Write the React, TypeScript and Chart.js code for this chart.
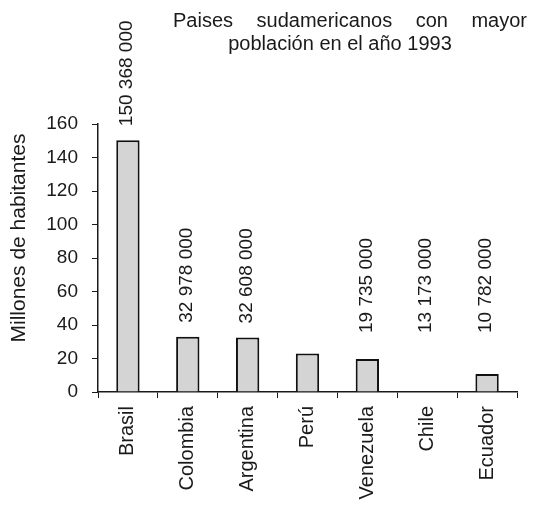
import { useEffect, useRef } from 'react';
import { Chart, registerables } from 'chart.js';

Chart.register(...registerables);

// Población 1993 (habitantes)
const paises = ['Brasil', 'Colombia', 'Argentina', 'Perú', 'Venezuela', 'Chile', 'Ecuador'];
const poblacion = [150368000, 32978000, 32608000, 23000000, 19735000, 13173000, 10782000];
// Qué países llevan cifra escrita y cuáles tienen barra dibujada
const conEtiqueta = [true, true, true, false, true, true, true];
const conBarra = [true, true, true, true, true, false, true];

const ejeMin = 0;
const ejeMax = 160;
const ejePaso = 20;

const tituloLineas = ['Paises sudamericanos con mayor', 'población en el año 1993'];
const tituloEje = 'Millones de habitantes';

const FUENTE = '"Liberation Sans", Arial, sans-serif';
const TINTA = '#1a1a1a';

const millones = poblacion.map((v, i) => (conBarra[i] ? v / 1e6 : null));

function conEspacios(v: number): string {
  return String(v).replace(/\B(?=(\d{3})+(?!\d))/g, ' ');
}

const textosPlugin = {
  id: 'textosPoblacion',
  afterDraw(chart: any) {
    const ctx: CanvasRenderingContext2D = chart.ctx;
    const area = chart.chartArea;
    const yScale = chart.scales.y;
    const meta = chart.getDatasetMeta(0);

    ctx.save();
    ctx.fillStyle = TINTA;

    // Título: primera línea justificada, segunda centrada
    ctx.font = `20px ${FUENTE}`;
    ctx.textBaseline = 'alphabetic';
    ctx.textAlign = 'left';
    const izq = 173;
    const der = chart.width - 6;
    const palabras = tituloLineas[0].split(' ');
    const anchos = palabras.map((p) => ctx.measureText(p).width);
    const total = anchos.reduce((a, b) => a + b, 0);
    const hueco = (der - izq - total) / (palabras.length - 1);
    let x = izq;
    palabras.forEach((p, i) => {
      ctx.fillText(p, x, 27);
      x += anchos[i] + hueco;
    });
    ctx.textAlign = 'center';
    ctx.fillText(tituloLineas[1], 340, 50);

    // Título del eje vertical
    ctx.save();
    ctx.font = `21px ${FUENTE}`;
    ctx.translate(19, 238);
    ctx.rotate(-Math.PI / 2);
    ctx.textAlign = 'center';
    ctx.textBaseline = 'middle';
    ctx.fillText(tituloEje, 0, 0);
    ctx.restore();

    // Cifras sobre las barras, en vertical
    ctx.font = `19px ${FUENTE}`;
    const limite = area.bottom - 59;
    meta.data.forEach((bar: any, i: number) => {
      if (!conEtiqueta[i]) return;
      const tope = yScale.getPixelForValue(poblacion[i] / 1e6);
      const base = Math.min(tope - 14, limite);
      ctx.save();
      ctx.translate(bar.x - 1, base);
      ctx.rotate(-Math.PI / 2);
      ctx.textAlign = 'left';
      ctx.textBaseline = 'middle';
      ctx.fillText(conEspacios(poblacion[i]), 0, 0);
      ctx.restore();
    });

    ctx.restore();
  },
};

export default function App() {
  const ref = useRef<HTMLCanvasElement>(null);

  useEffect(() => {
    if (!ref.current) return;
    const chart = new Chart(ref.current, {
      type: 'bar',
      data: {
        labels: paises,
        datasets: [
          {
            data: millones,
            backgroundColor: '#d4d4d4',
            borderColor: '#111111',
            borderWidth: 2,
            barPercentage: 0.39,
            categoryPercentage: 1,
          },
        ],
      },
      options: {
        responsive: false,
        animation: false,
        devicePixelRatio: 1,
        layout: { padding: { top: 124, right: 16, left: 0, bottom: 0 } },
        plugins: {
          legend: { display: false },
          tooltip: { enabled: false },
          title: { display: false },
        },
        scales: {
          x: {
            grid: {
              display: true,
              offset: true,
              drawOnChartArea: false,
              drawTicks: true,
              tickLength: 6,
              color: TINTA,
              lineWidth: 1,
            },
            border: { display: true, color: TINTA, width: 1.5 },
            ticks: {
              color: TINTA,
              font: { family: FUENTE, size: 20 },
              maxRotation: 90,
              minRotation: 90,
              autoSkip: false,
              padding: 8,
            },
            afterFit: (s: any) => {
              s.height = 115;
            },
          },
          y: {
            min: ejeMin,
            max: ejeMax,
            grid: {
              display: true,
              drawOnChartArea: false,
              drawTicks: true,
              tickLength: 6,
              color: TINTA,
              lineWidth: 1,
            },
            border: { display: true, color: TINTA, width: 1.5 },
            ticks: {
              stepSize: ejePaso,
              color: TINTA,
              font: { family: FUENTE, size: 19 },
              padding: 14,
            },
            afterFit: (s: any) => {
              s.width = 98;
            },
          },
        },
      },
      plugins: [textosPlugin],
    });
    return () => chart.destroy();
  }, []);

  return (
    <div style={{ position: 'fixed', left: 0, top: 0, width: 533, height: 507, background: '#ffffff' }}>
      <canvas ref={ref} width={533} height={507} style={{ display: 'block' }} />
    </div>
  );
}
